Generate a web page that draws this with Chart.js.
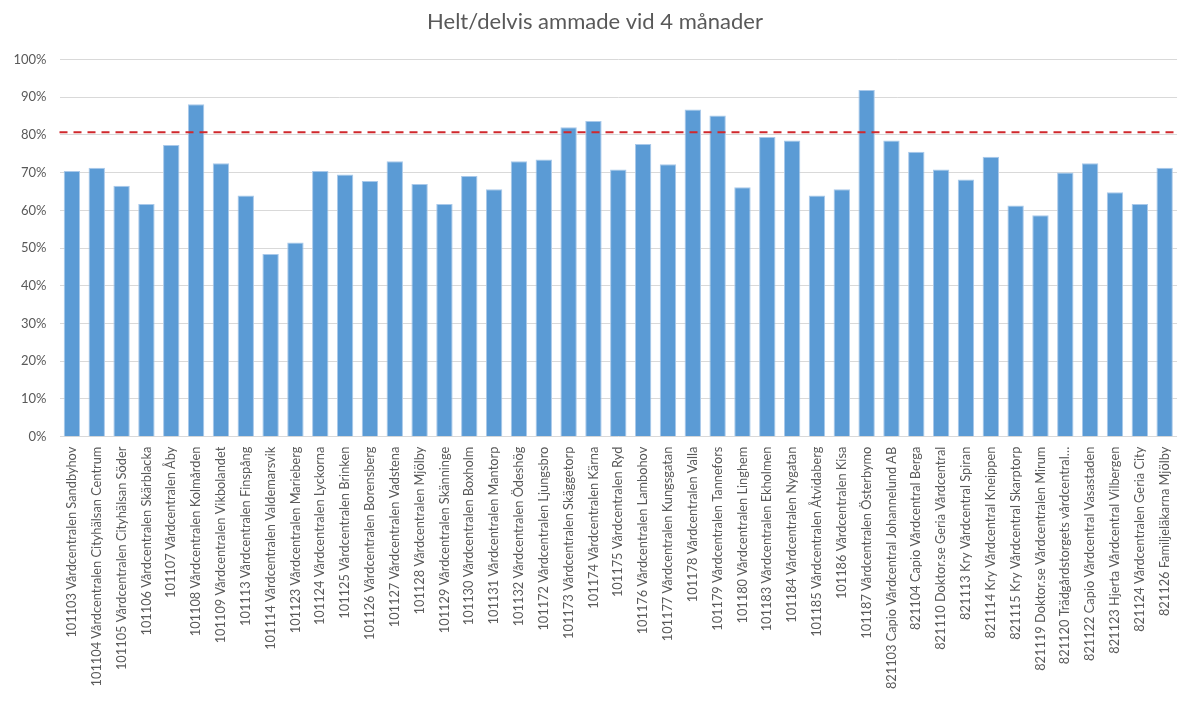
<!DOCTYPE html>
<html lang="sv">
<head>
<meta charset="utf-8">
<title>Helt/delvis ammade vid 4 månader</title>
<script src="https://cdn.jsdelivr.net/npm/chart.js@4.4.1/dist/chart.umd.min.js"></script>
<style>
  html, body { margin: 0; padding: 0; background: #fff; overflow: hidden; }
  #wrap { position: relative; width: 1190px; height: 717px; }
</style>
</head>
<body>
<div id="wrap"><canvas id="chart"></canvas></div>
<script>
// Vårdcentraler och andel helt/delvis ammade vid 4 månader (%)
const units = [
  "101103 Vårdcentralen Sandbyhov",
  "101104 Vårdcentralen Cityhälsan Centrum",
  "101105 Vårdcentralen Cityhälsan Söder",
  "101106 Vårdcentralen Skärblacka",
  "101107 Vårdcentralen Åby",
  "101108 Vårdcentralen Kolmården",
  "101109 Vårdcentralen Vikbolandet",
  "101113 Vårdcentralen Finspång",
  "101114 Vårdcentralen Valdemarsvik",
  "101123 Vårdcentralen Marieberg",
  "101124 Vårdcentralen Lyckorna",
  "101125 Vårdcentralen Brinken",
  "101126 Vårdcentralen Borensberg",
  "101127 Vårdcentralen Vadstena",
  "101128 Vårdcentralen Mjölby",
  "101129 Vårdcentralen Skänninge",
  "101130 Vårdcentralen Boxholm",
  "101131 Vårdcentralen Mantorp",
  "101132 Vårdcentralen Ödeshög",
  "101172 Vårdcentralen Ljungsbro",
  "101173 Vårdcentralen Skäggetorp",
  "101174 Vårdcentralen Kärna",
  "101175 Vårdcentralen Ryd",
  "101176 Vårdcentralen Lambohov",
  "101177 Vårdcentralen Kungsgatan",
  "101178 Vårdcentralen Valla",
  "101179 Vårdcentralen Tannefors",
  "101180 Vårdcentralen Linghem",
  "101183 Vårdcentralen Ekholmen",
  "101184 Vårdcentralen Nygatan",
  "101185 Vårdcentralen Åtvidaberg",
  "101186 Vårdcentralen Kisa",
  "101187 Vårdcentralen Österbymo",
  "821103 Capio Vårdcentral Johannelund AB",
  "821104 Capio Vårdcentral Berga",
  "821110 Doktor.se Geria Vårdcentral",
  "821113 Kry Vårdcentral Spiran",
  "821114 Kry Vårdcentral Kneippen",
  "821115 Kry Vårdcentral Skarptorp",
  "821119 Doktor.se Vårdcentralen Mirum",
  "821120 Trädgårdstorgets vårdcentral…",
  "821122 Capio Vårdcentral Vasastaden",
  "821123 Hjerta Vårdcentral Vilbergen",
  "821124 Vårdcentralen Geria City",
  "821126 Familjeläkarna Mjölby",
];

const shares = [
  70.4, 71.3, 66.5, 61.7, 77.3, 88.1, 72.5, 63.9, 48.4, 51.5,
  70.4, 69.5, 67.8, 73.0, 67.0, 61.7, 69.1, 65.6, 73.0, 73.5,
  82.0, 83.7, 70.8, 77.6, 72.2, 86.7, 85.1, 66.1, 79.4, 78.5,
  63.9, 65.6, 91.9, 78.5, 75.5, 70.8, 68.2, 74.2, 61.3, 58.7,
  70.0, 72.5, 64.8, 61.7, 71.3,
];

const yTicks = [0, 10, 20, 30, 40, 50, 60, 70, 80, 90, 100];
const targetLevel = 80.7; // länsgenomsnitt / mål

const GREY = "#595959";

// streckad referenslinje över hela ritytan
const targetLine = {
  id: "targetLine",
  afterDatasetsDraw(chart) {
    const { ctx, chartArea, scales } = chart;
    const y = scales.y.getPixelForValue(targetLevel);
    ctx.save();
    ctx.strokeStyle = "#d0282d";
    ctx.lineWidth = 2;
    ctx.setLineDash([8, 6]);
    ctx.beginPath();
    ctx.moveTo(chartArea.left, y);
    ctx.lineTo(chartArea.right, y);
    ctx.stroke();
    ctx.restore();
  },
};

Chart.defaults.font.family = "Lato, 'Open Sans', sans-serif";
Chart.defaults.color = GREY;

new Chart(document.getElementById("chart"), {
  type: "bar",
  data: {
    labels: units,
    datasets: [{
      data: shares,
      backgroundColor: "#5b9bd5",
      borderColor: "#a9c9ea",
      borderWidth: 1,
      categoryPercentage: 1,
      barPercentage: 0.66,
    }],
  },
  options: {
    responsive: true,
    maintainAspectRatio: false,
    animation: false,
    layout: { padding: 0 },
    plugins: {
      legend: { display: false },
      tooltip: { enabled: false },
      title: {
        display: true,
        text: "Helt/delvis ammade vid 4 månader",
        color: GREY,
        font: { size: 22, weight: "normal" },
        padding: { top: 9, bottom: 24 },
      },
    },
    scales: {
      x: {
        grid: { display: false, drawTicks: false },
        border: { display: false },
        ticks: {
          autoSkip: false, maxRotation: 90, minRotation: 90,
          padding: 10, font: { size: 12.8 }, color: GREY,
        },
        afterFit: (s) => { s.height = 280.3; },
      },
      y: {
        min: 0, max: 100,
        afterBuildTicks: (s) => { s.ticks = yTicks.map((v) => ({ value: v })); },
        grid: { color: "#d9d9d9", lineWidth: 1, drawTicks: false },
        border: { display: false },
        ticks: { padding: 13, font: { size: 13 }, color: GREY, callback: (v) => v + "%" },
        afterFit: (s) => { s.width = 59.5; },
      },
    },
  },
  plugins: [targetLine],
});
</script>
</body>
</html>
